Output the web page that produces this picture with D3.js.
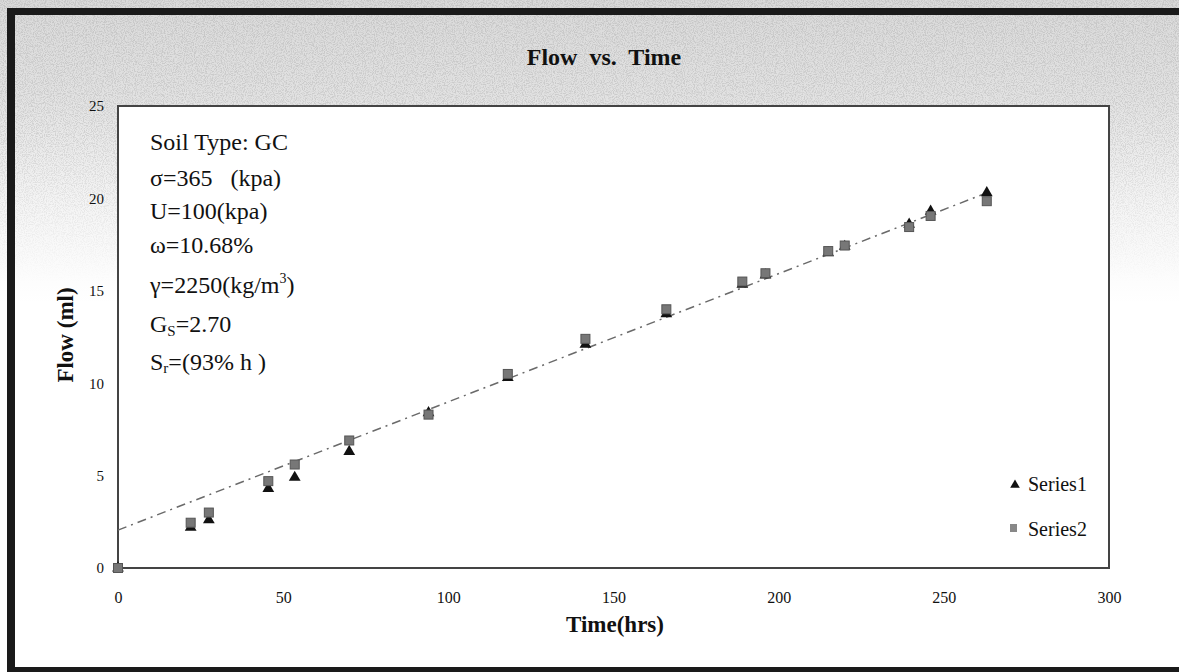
<!DOCTYPE html>
<meta charset="utf-8">
<head>
  <title>Flow vs. Time</title>
  <style>
    body { margin: 0; background: #fff; }
    text { font-family: "Liberation Serif", "Times New Roman", serif; fill: #111; }
  </style>
</head>
<body>
<div id="chart"></div>
<script src="https://d3js.org/d3.v7.min.js"></script>
<script>

// data
var timeHrs = [0, 22, 27.5, 45.5, 53.5, 70, 94, 118, 141.5, 166, 189, 196, 215, 220, 239.5, 246, 263];
var series1 = [0, 2.2, 2.6, 4.3, 4.9, 6.3, 8.4, 10.3, 12.1, 13.75, 15.35, 15.85, 17.05, 17.4, 18.6, 19.3, 20.3];
var series2 = [0, 2.45, 3.0, 4.7, 5.6, 6.9, 8.3, 10.5, 12.4, 14.0, 15.5, 15.95, 17.15, 17.45, 18.45, 19.05, 19.85];
var trendX = [0, 263];
var trendY = [2.05, 20.3];
var xTicks = [0, 50, 100, 150, 200, 250, 300];
var yTicks = [0, 5, 10, 15, 20, 25];
var seriesNames = ["Series1", "Series2"];

var W = 1179, H = 672;
var plot = {left: 118, right: 1109, top: 106, bottom: 568};

var svg = d3.select("#chart").append("svg")
    .attr("width", W)
    .attr("height", H);

var defs = svg.append("defs");

// halftone-ish gray background, strongest at the top
var grad = defs.append("linearGradient")
    .attr("id", "bgfade").attr("x1", 0).attr("y1", 0).attr("x2", 0).attr("y2", 1);
grad.append("stop").attr("offset", "0%").attr("stop-color", "#dadada");
grad.append("stop").attr("offset", "14%").attr("stop-color", "#e2e2e2");
grad.append("stop").attr("offset", "30%").attr("stop-color", "#f4f4f4");
grad.append("stop").attr("offset", "45%").attr("stop-color", "#ffffff");
grad.append("stop").attr("offset", "100%").attr("stop-color", "#ffffff");

var mgrad = defs.append("linearGradient")
    .attr("id", "maskfade").attr("x1", 0).attr("y1", 0).attr("x2", 0).attr("y2", 1);
mgrad.append("stop").attr("offset", "0%").attr("stop-color", "#fff");
mgrad.append("stop").attr("offset", "20%").attr("stop-color", "#bbb");
mgrad.append("stop").attr("offset", "42%").attr("stop-color", "#000");
defs.append("mask").attr("id", "grainmask")
  .append("rect").attr("width", W).attr("height", H).attr("fill", "url(#maskfade)");

var filt = defs.append("filter").attr("id", "grain")
    .attr("x", 0).attr("y", 0).attr("width", "100%").attr("height", "100%");
filt.append("feTurbulence")
    .attr("type", "fractalNoise").attr("baseFrequency", 0.9)
    .attr("numOctaves", 2).attr("seed", 4);
filt.append("feColorMatrix").attr("type", "matrix")
    .attr("values", "0 0 0 0 0.5  0 0 0 0 0.5  0 0 0 0 0.5  4 0 0 0 -1.7");

svg.append("rect").attr("width", W).attr("height", H).attr("fill", "url(#bgfade)");
svg.append("rect").attr("width", W).attr("height", H)
    .attr("filter", "url(#grain)").attr("mask", "url(#grainmask)").attr("opacity", 0.7);

// thick scanned frame (left, top, bottom)
var frame = svg.append("g").attr("stroke", "#1a1a1a").attr("fill", "none");
frame.append("line").attr("x1", 11).attr("x2", 11).attr("y1", 8).attr("y2", H).attr("stroke-width", 8);
frame.append("line").attr("x1", 7).attr("x2", W).attr("y1", 11.5).attr("y2", 11.5).attr("stroke-width", 7);
frame.append("line").attr("x1", 7).attr("x2", W).attr("y1", 669.5).attr("y2", 669.5).attr("stroke-width", 5);

// scales
var x = d3.scaleLinear().domain([0, 300]).range([plot.left, plot.right]);
var y = d3.scaleLinear().domain([0, 25]).range([plot.bottom, plot.top]);

// plot area
svg.append("rect")
    .attr("x", plot.left).attr("y", plot.top)
    .attr("width", plot.right - plot.left).attr("height", plot.bottom - plot.top)
    .attr("fill", "#fff").attr("stroke", "#444").attr("stroke-width", 2);

// axes (labels only, no tick marks)
var xAxis = svg.append("g")
    .attr("transform", "translate(0," + plot.bottom + ")")
    .call(d3.axisBottom(x).tickValues(xTicks).tickSize(0).tickPadding(24).tickFormat(d3.format("d")));
xAxis.select(".domain").remove();
xAxis.selectAll("text").style("font-size", "16px").style("font-family", "Liberation Serif").attr("fill", "#111");

var yAxis = svg.append("g")
    .attr("transform", "translate(" + plot.left + ",0)")
    .call(d3.axisLeft(y).tickValues(yTicks).tickSize(0).tickPadding(14).tickFormat(d3.format("d")));
yAxis.select(".domain").remove();
yAxis.selectAll("text").style("font-size", "15px").style("font-family", "Liberation Serif").attr("fill", "#111");

// title and axis titles
svg.append("text")
    .attr("x", 604).attr("y", 65)
    .attr("text-anchor", "middle")
    .style("font-size", "24px").style("font-weight", "bold").style("word-spacing", "6px")
    .text("Flow vs. Time");

svg.append("text")
    .attr("x", 615).attr("y", 632)
    .attr("text-anchor", "middle")
    .style("font-size", "23px").style("font-weight", "bold")
    .text("Time(hrs)");

svg.append("text")
    .attr("transform", "translate(73,335) rotate(-90)")
    .attr("text-anchor", "middle")
    .style("font-size", "23px").style("font-weight", "bold")
    .text("Flow (ml)");

// trend line
svg.append("line")
    .attr("x1", x(trendX[0])).attr("y1", y(trendY[0]))
    .attr("x2", x(trendX[1])).attr("y2", y(trendY[1]))
    .attr("stroke", "#6a6a6a").attr("stroke-width", 1.5)
    .attr("stroke-dasharray", "9,5,2,5");

// series 1: black triangles
var tri = d3.symbol().type(d3.symbolTriangle).size(60);
svg.append("g").selectAll("path")
    .data(timeHrs)
  .enter().append("path")
    .attr("d", tri)
    .attr("transform", function(d, i) { return "translate(" + x(d) + "," + y(series1[i]) + ")"; })
    .attr("fill", "#111");

// series 2: gray squares
var sq = 9;
svg.append("g").selectAll("rect")
    .data(timeHrs)
  .enter().append("rect")
    .attr("x", function(d) { return x(d) - sq / 2; })
    .attr("y", function(d, i) { return y(series2[i]) - sq / 2; })
    .attr("width", sq).attr("height", sq)
    .attr("fill", "#777").attr("stroke", "#555").attr("stroke-width", 1);

// legend
var legend = svg.append("g");
legend.append("path")
    .attr("d", d3.symbol().type(d3.symbolTriangle).size(40))
    .attr("transform", "translate(1015,485)")
    .attr("fill", "#111");
legend.append("rect")
    .attr("x", 1010).attr("y", 524).attr("width", 7).attr("height", 8)
    .attr("fill", "#888");
legend.selectAll("text.lg")
    .data(seriesNames)
  .enter().append("text")
    .attr("class", "lg")
    .attr("x", 1028)
    .attr("y", function(d, i) { return 491 + i * 45; })
    .style("font-size", "20px")
    .text(function(d) { return d; });

// sample annotation
var ann = svg.append("text")
    .attr("x", 150)
    .style("font-size", "24px")
    .style("white-space", "pre");
ann.append("tspan").attr("x", 150).attr("y", 150).text("Soil Type: GC");
ann.append("tspan").attr("x", 150).attr("y", 186).text("\u03c3=365   (kpa)");
ann.append("tspan").attr("x", 150).attr("y", 219).text("U=100(kpa)");
ann.append("tspan").attr("x", 150).attr("y", 253).text("\u03c9=10.68%");
var g = ann.append("tspan").attr("x", 150).attr("y", 293);
g.append("tspan").text("\u03b3=2250(kg/m");
g.append("tspan").attr("dy", -10).style("font-size", "14px").text("3");
g.append("tspan").attr("dy", 10).text(")");
var gs = ann.append("tspan").attr("x", 150).attr("y", 332);
gs.append("tspan").text("G");
gs.append("tspan").attr("dy", 4).style("font-size", "15px").text("S");
gs.append("tspan").attr("dy", -4).text("=2.70");
var sr = ann.append("tspan").attr("x", 150).attr("y", 370);
sr.append("tspan").text("S");
sr.append("tspan").attr("dy", 3).style("font-size", "15px").text("r");
sr.append("tspan").attr("dy", -3).text("=(93% h )");

</script>
</body>
</html>
